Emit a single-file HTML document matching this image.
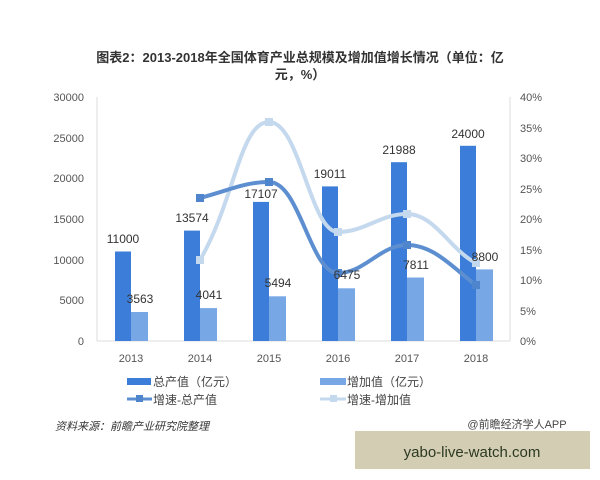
<!DOCTYPE html>
<html><head><meta charset="utf-8"><style>
body{margin:0;background:#fff;width:600px;height:480px;overflow:hidden;font-family:"Liberation Sans","Noto Sans CJK SC",sans-serif;}
</style></head><body>
<svg width="600" height="480" xmlns="http://www.w3.org/2000/svg" style="position:absolute;left:0;top:0">
<text x="300" y="62" text-anchor="middle" font-size="13" font-weight="bold" fill="#333" font-family="Liberation Sans,Noto Sans CJK SC,sans-serif">图表2：2013-2018年全国体育产业总规模及增加值增长情况（单位：亿</text>
<text x="300" y="79" text-anchor="middle" font-size="13" font-weight="bold" fill="#333" font-family="Liberation Sans,Noto Sans CJK SC,sans-serif">元，%）</text>
<g font-size="11" fill="#555" font-family="Liberation Sans,sans-serif">
<text x="84" y="101" text-anchor="end">30000</text>
<text x="84" y="142" text-anchor="end">25000</text>
<text x="84" y="182" text-anchor="end">20000</text>
<text x="84" y="223" text-anchor="end">15000</text>
<text x="84" y="264" text-anchor="end">10000</text>
<text x="84" y="304" text-anchor="end">5000</text>
<text x="84" y="345" text-anchor="end">0</text>
<text x="520" y="101">40%</text>
<text x="520" y="132">35%</text>
<text x="520" y="162">30%</text>
<text x="520" y="193">25%</text>
<text x="520" y="223">20%</text>
<text x="520" y="254">15%</text>
<text x="520" y="284">10%</text>
<text x="520" y="315">5%</text>
<text x="520" y="345">0%</text>
<text x="131" y="362" text-anchor="middle">2013</text>
<text x="200" y="362" text-anchor="middle">2014</text>
<text x="269" y="362" text-anchor="middle">2015</text>
<text x="338" y="362" text-anchor="middle">2016</text>
<text x="407" y="362" text-anchor="middle">2017</text>
<text x="476" y="362" text-anchor="middle">2018</text>
</g>
<line x1="97" y1="97" x2="97" y2="341" stroke="#ddd"/>
<line x1="510" y1="97" x2="510" y2="341" stroke="#ddd"/>
<line x1="97" y1="341" x2="510" y2="341" stroke="#ddd"/>
<g fill="#3b7dd8">
<rect x="115" y="251.5" width="16" height="89.5"/>
<rect x="184" y="230.6" width="16" height="110.4"/>
<rect x="253" y="201.9" width="16" height="139.1"/>
<rect x="322" y="186.4" width="16" height="154.6"/>
<rect x="391" y="162.2" width="16" height="178.8"/>
<rect x="460" y="145.8" width="16" height="195.2"/>
</g>
<g fill="#78a7e6">
<rect x="131" y="312" width="17" height="29"/>
<rect x="200" y="308.1" width="17" height="32.9"/>
<rect x="269" y="296.3" width="17" height="44.7"/>
<rect x="338" y="288.3" width="17" height="52.7"/>
<rect x="407" y="277.5" width="17" height="63.5"/>
<rect x="476" y="269.4" width="17" height="71.6"/>
</g>
<path d="M200,260 C235,200 240,122 269,122 C300,122 310,232 338,232 C365,232 380,214 407,214 C435,214 450,250 476,263" fill="none" stroke="#c5d9ee" stroke-width="4"/>
<path d="M200,198 C230,190 245,182 269,182 C300,182 310,273 338,273 C365,273 380,245 407,245 C435,245 455,270 476,285" fill="none" stroke="#5d8fd0" stroke-width="4"/>
<g fill="#c5d9ee"><rect x="196" y="256" width="8" height="8"/><rect x="265" y="118" width="8" height="8"/><rect x="334" y="228" width="8" height="8"/><rect x="403" y="210" width="8" height="8"/><rect x="472" y="259" width="8" height="8"/></g>
<g fill="#4f85cc"><rect x="196" y="194" width="8" height="8"/><rect x="265" y="178" width="8" height="8"/><rect x="334" y="269" width="8" height="8"/><rect x="403" y="241" width="8" height="8"/><rect x="472" y="281" width="8" height="8"/></g>
<g font-size="12" fill="#333" font-family="Liberation Sans,sans-serif">
<text x="123" y="243" text-anchor="middle">11000</text>
<text x="192" y="222" text-anchor="middle">13574</text>
<text x="261" y="198" text-anchor="middle">17107</text>
<text x="330" y="178" text-anchor="middle">19011</text>
<text x="399" y="154" text-anchor="middle">21988</text>
<text x="468" y="138" text-anchor="middle">24000</text>
<text x="140" y="303" text-anchor="middle">3563</text>
<text x="209" y="299" text-anchor="middle">4041</text>
<text x="278" y="287" text-anchor="middle">5494</text>
<text x="347" y="279" text-anchor="middle">6475</text>
<text x="416" y="269" text-anchor="middle">7811</text>
<text x="485" y="261" text-anchor="middle">8800</text>
</g>
<g font-size="12" fill="#444" font-family="Liberation Sans,Noto Sans CJK SC,sans-serif">
<rect x="127" y="378" width="24" height="7" fill="#3b7dd8"/><text x="153" y="386">总产值（亿元）</text>
<rect x="320" y="378" width="26" height="7" fill="#78a7e6"/><text x="347" y="386">增加值（亿元）</text>
<line x1="127" y1="399" x2="152" y2="399" stroke="#5d8fd0" stroke-width="3"/><rect x="136" y="395" width="7" height="7" fill="#4f85cc"/><text x="153" y="404">增速-总产值</text>
<line x1="320" y1="399" x2="346" y2="399" stroke="#c5d9ee" stroke-width="3"/><rect x="330" y="395" width="7" height="7" fill="#c5d9ee"/><text x="347" y="404">增速-增加值</text>
</g>
<text x="55" y="430" font-size="11" font-style="italic" fill="#333" font-family="Liberation Sans,Noto Sans CJK SC,sans-serif">资料来源：前瞻产业研究院整理</text>
<text x="517" y="428" text-anchor="middle" font-size="11" fill="#444" font-family="Liberation Sans,Noto Sans CJK SC,sans-serif">@前瞻经济学人APP</text>
<rect x="355" y="431" width="235" height="38" fill="#d3cdb3"/>
<text x="472" y="457" text-anchor="middle" font-size="15" fill="#2c3a22" font-family="Liberation Sans,sans-serif">yabo-live-watch.com</text>
</svg>
</body></html>
